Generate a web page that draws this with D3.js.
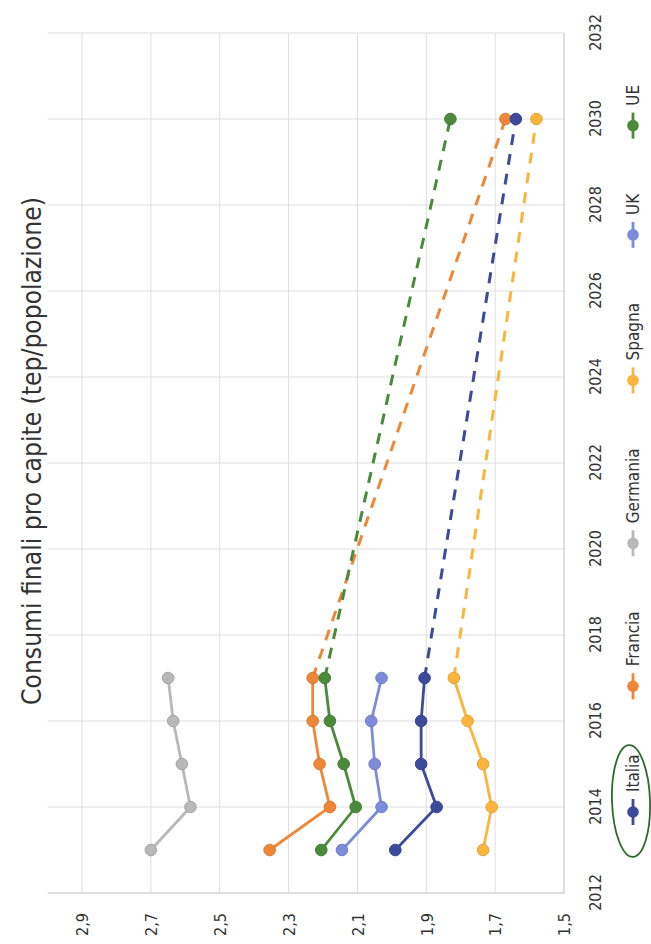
<!DOCTYPE html>
<html>
<head>
<meta charset="utf-8">
<script src="https://cdn.jsdelivr.net/npm/d3@7"></script>
<style>
  html, body { margin: 0; padding: 0; background: #fff; }
  svg { display: block; }
  text { font-family: "Liberation Sans Narrow", "DejaVu Sans Condensed", "Open Sans", sans-serif; }
</style>
</head>
<body>
<div id="chart"></div>
<script>
// ---- data ----
const title = "Consumi finali pro capite (tep/popolazione)";
const years = [2013, 2014, 2015, 2016, 2017];
const targetYear = 2030;
const seriesNames = ["Italia", "Francia", "Germania", "Spagna", "UK", "UE"];
const italia   = [1.99, 1.87, 1.915, 1.915, 1.905];
const francia  = [2.355, 2.18, 2.21, 2.23, 2.23];
const germania = [2.70, 2.585, 2.61, 2.635, 2.65];
const spagna   = [1.735, 1.71, 1.735, 1.78, 1.82];
const uk       = [2.145, 2.03, 2.05, 2.06, 2.03];
const ue       = [2.205, 2.105, 2.14, 2.18, 2.195];
// 2030 targets (null = none)
const target2030 = [1.64, 1.67, null, 1.58, null, 1.83];
const yearTicks = [2012, 2014, 2016, 2018, 2020, 2022, 2024, 2026, 2028, 2030, 2032];
const valueTicks = [1.5, 1.7, 1.9, 2.1, 2.3, 2.5, 2.7, 2.9];
const colors = ["#3c4a9c", "#ee8838", "#b8b8b8", "#fbb53c", "#7c8cda", "#4b8a3b"];

const seriesValues = [italia, francia, germania, spagna, uk, ue];

// ---- chart ----
const W = 651, H = 944;
const svg = d3.select("#chart").append("svg").attr("width", W).attr("height", H);
svg.append("rect").attr("width", W).attr("height", H).attr("fill", "#fff");

// chart drawn in an unrotated frame (H wide, W tall) then rotated -90deg
const g = svg.append("g").attr("transform", `translate(0,${H}) rotate(-90)`);

const x = d3.scaleLinear().domain([2012, 2032]).range([51, 911]);
const y = d3.scaleLinear().domain([1.5, 3.0]).range([564, 47.6]);

// gridlines
g.append("g").selectAll("line").data(yearTicks).join("line")
  .attr("x1", d => x(d)).attr("x2", d => x(d))
  .attr("y1", y(1.5)).attr("y2", y(3.0))
  .attr("stroke", d => d === 2012 ? "#bdbdbd" : "#dedede").attr("stroke-width", 1);
g.append("g").selectAll("line").data(valueTicks).join("line")
  .attr("x1", x(2012)).attr("x2", x(2032))
  .attr("y1", d => y(d)).attr("y2", d => y(d))
  .attr("stroke", d => d === 1.5 ? "#bdbdbd" : "#dedede").attr("stroke-width", 1);

// axes
const xAxis = g.append("g").attr("transform", `translate(0,${y(1.5)})`)
  .call(d3.axisBottom(x).tickValues(yearTicks).tickFormat(d3.format("d")).tickSize(0).tickPadding(26));
const yAxis = g.append("g").attr("transform", `translate(${x(2012)},0)`)
  .call(d3.axisLeft(y).tickValues(valueTicks).tickFormat(d => d.toFixed(1).replace(".", ",")).tickSize(0).tickPadding(20));
[xAxis, yAxis].forEach(a => {
  a.select(".domain").remove();
  a.selectAll("text").attr("font-size", 16).attr("fill", "#333");
});
yAxis.selectAll("text").attr("dy", "0.36em");

// series
const line = d3.line().x(d => x(d[0])).y(d => y(d[1]));
const order = [2, 1, 3, 4, 5, 0];
order.forEach(i => {
  const vals = seriesValues[i];
  const pts = years.map((yr, k) => [yr, vals[k]]);
  const sg = g.append("g");
  if (target2030[i] != null) {
    sg.append("path").datum([pts[pts.length - 1], [targetYear, target2030[i]]])
      .attr("d", line).attr("fill", "none").attr("stroke", colors[i])
      .attr("stroke-width", 3).attr("stroke-dasharray", "11,9");
  }
  sg.append("path").datum(pts).attr("d", line).attr("fill", "none")
    .attr("stroke", colors[i]).attr("stroke-width", 2.8);
  const allPts = target2030[i] != null ? pts.concat([[targetYear, target2030[i]]]) : pts;
  sg.selectAll("circle").data(allPts).join("circle")
    .attr("cx", d => x(d[0])).attr("cy", d => y(d[1])).attr("r", 5.8)
    .attr("fill", colors[i]).attr("stroke", d3.color(colors[i]).darker(0.3)).attr("stroke-width", 1);
});

// title
const t = g.append("text").text(title)
  .attr("x", 493).attr("y", 32).attr("text-anchor", "middle")
  .attr("dominant-baseline", "central").attr("font-size", 24).attr("fill", "#333");
const tw = t.node().getComputedTextLength();
t.attr("font-size", 24 * 508 / tw);

// legend
const lg = g.append("g").attr("transform", "translate(0,633)");
let cur = 132;
seriesNames.forEach((name, i) => {
  const it = lg.append("g").attr("transform", `translate(${cur},0)`);
  it.append("line").attr("x1", -13).attr("x2", 13).attr("stroke", colors[i]).attr("stroke-width", 2.8);
  it.append("circle").attr("r", 5.8).attr("fill", colors[i]);
  const tx = it.append("text").text(name).attr("x", 20).attr("dominant-baseline", "central")
    .attr("font-size", 17).attr("fill", "#333");
  const w = tx.node().getComputedTextLength();
  cur += 20 + w + 68;
});

// hand-drawn annotation ellipse around the first legend entry
g.append("ellipse").attr("cx", 143).attr("cy", 631).attr("rx", 56).attr("ry", 19)
  .attr("fill", "none").attr("stroke", "#2f6a2a").attr("stroke-width", 1.8)
  .attr("transform", "rotate(-2,143,631)");
</script>
</body>
</html>
